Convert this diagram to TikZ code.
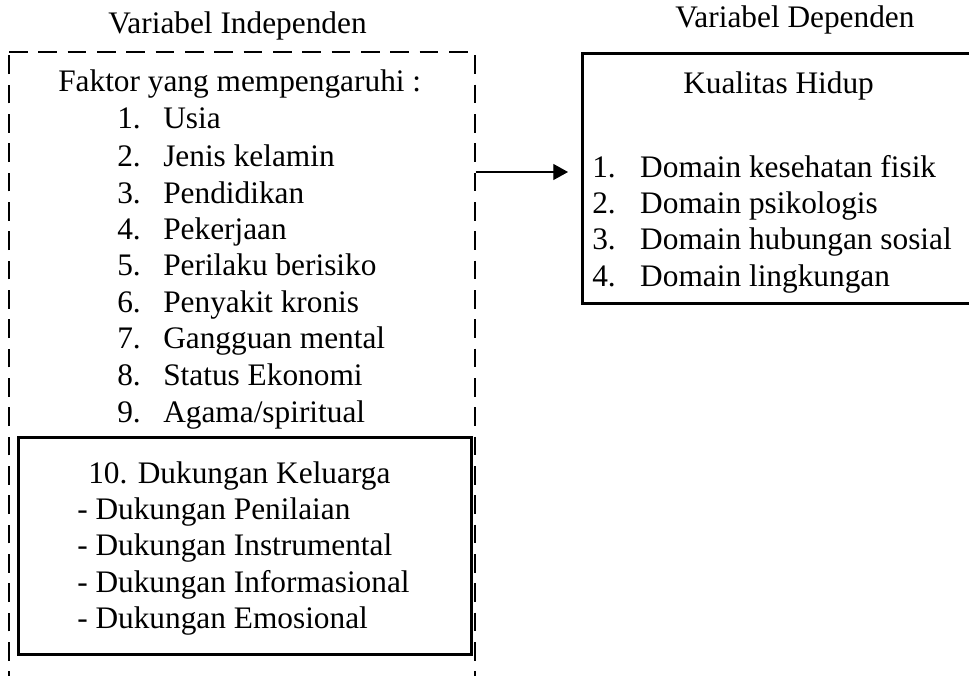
\documentclass[tikz,border=0pt]{standalone}
\usepackage{fontspec}
\setmainfont{Liberation Serif}
\usetikzlibrary{arrows.meta}

\newcommand{\nomor}[2][34.5pt]{\makebox[#1][l]{#2}}

\begin{document}
\begin{tikzpicture}[x=0.75pt,y=-0.75pt,>={Triangle[length=11pt,width=12pt]},
    txt/.style={anchor=base west,inner sep=0pt,font=\fontsize{23.5}{27}\selectfont},
    box/.style={draw,line width=2.2pt,rectangle,inner sep=0pt},
    dashbox/.style={box,dash pattern=on 14pt off 8pt}]
    \useasboundingbox (0,0) rectangle (969,675);

    % headings
    \node[txt] (hind) at (108,33) {Variabel Independen};
    \node[txt] (hdep) at (675,27) {Variabel Dependen};

    % independent variable box
    \draw[dashbox] (9,52) -- (475,52) -- (475,690) (9,690) -- (9,52);
    \node[minimum width=466*0.75pt,minimum height=640*0.75pt,inner sep=0pt,anchor=north west] (indep) at (9,52) {};
    \node[txt] (faktor) at (58,91) {Faktor yang mempengaruhi :};
    \node[txt] (f1) at (117,128) {\nomor{1.}Usia};
    \node[txt] (f2) at (117,166) {\nomor{2.}Jenis kelamin};
    \node[txt] (f3) at (117,203) {\nomor{3.}Pendidikan};
    \node[txt] (f4) at (117,239) {\nomor{4.}Pekerjaan};
    \node[txt] (f5) at (117,275) {\nomor{5.}Perilaku berisiko};
    \node[txt] (f6) at (117,312) {\nomor{6.}Penyakit kronis};
    \node[txt] (f7) at (117,348) {\nomor{7.}Gangguan mental};
    \node[txt] (f8) at (117,385) {\nomor{8.}Status Ekonomi};
    \node[txt] (f9) at (117,422) {\nomor{9.}Agama/spiritual};

    % family support box
    \node[box,minimum width=453*0.75pt,minimum height=217*0.75pt,anchor=north west] (keluarga) at (17,436) {};
    \node[txt] (k0) at (88,483) {10. Dukungan Keluarga};
    \node[txt] (k1) at (77,519) {- Dukungan Penilaian};
    \node[txt] (k2) at (77,555) {- Dukungan Instrumental};
    \node[txt] (k3) at (77,592) {- Dukungan Informasional};
    \node[txt] (k4) at (77,628) {- Dukungan Emosional};

    % dependent variable box
    \node[box,minimum width=400*0.75pt,minimum height=250*0.75pt,anchor=north west] (dep) at (581,52) {};
    \node[txt] (kh) at (683,93) {Kualitas Hidup};
    \node[txt] (d1) at (592,177) {\nomor[36pt]{1.}Domain kesehatan fisik};
    \node[txt] (d2) at (592,213) {\nomor[36pt]{2.}Domain psikologis};
    \node[txt] (d3) at (592,249) {\nomor[36pt]{3.}Domain hubungan sosial};
    \node[txt] (d4) at (592,286) {\nomor[36pt]{4.}Domain lingkungan};

    \coordinate (tip) at (568,172);
    \draw[->,line width=0.8pt] (indep.east |- tip) -- (tip);
\end{tikzpicture}
\end{document}
